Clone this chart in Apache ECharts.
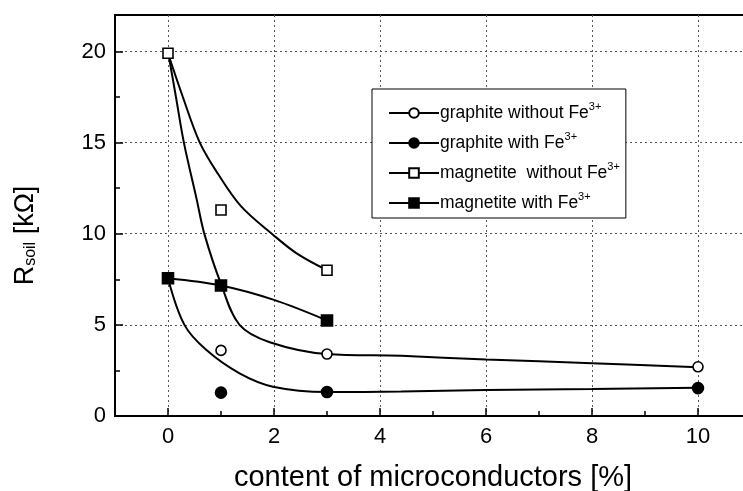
<!DOCTYPE html>
<html>
<head>
<meta charset="utf-8">
<script src="https://cdn.jsdelivr.net/npm/echarts@6/dist/echarts.min.js"></script>
<style>
html, body { margin: 0; padding: 0; background: #fff; }
#chart { width: 743px; height: 491px; }
</style>
</head>
<body>
<div id="chart"></div>
<script>
// legend names
const names = ['graphite without Fe3+', 'graphite with Fe3+', 'magnetite  without Fe3+', 'magnetite with Fe3+']

// measured points
const graphiteNoFeX = [1, 3, 10]
const graphiteNoFeY = [3.6, 3.4, 2.7]
const graphiteFeX = [1, 3, 10]
const graphiteFeY = [1.28, 1.32, 1.53]
const magnetiteNoFeX = [0, 1, 3]
const magnetiteNoFeY = [19.9, 11.3, 8.0]
const magnetiteFeX = [0, 1, 3]
const magnetiteFeY = [7.56, 7.16, 5.24]

// fitted curves
const fitGraphiteNoFeX = [0, 0.15, 0.3, 0.54, 0.69, 1.0, 1.35, 1.92, 3, 4.4, 6, 8, 10]
const fitGraphiteNoFeY = [20, 17.5, 15, 11.9, 9.95, 7.25, 5.0, 4.05, 3.4, 3.3, 3.1, 2.9, 2.67]
const fitGraphiteFeX = [0, 0.31, 0.72, 1.35, 1.98, 3, 4.4, 6, 8, 10]
const fitGraphiteFeY = [7.56, 5.0, 3.63, 2.34, 1.61, 1.32, 1.34, 1.43, 1.48, 1.55]
const fitMagnetiteNoFeX = [0, 0.28, 0.6, 0.94, 1.38, 1.98, 2.42, 3]
const fitMagnetiteNoFeY = [19.9, 17.5, 15, 13.3, 11.5, 9.95, 8.94, 8.0]
const fitMagnetiteFeX = [0, 1, 2, 3]
const fitMagnetiteFeY = [7.56, 7.16, 6.37, 5.24]

// axis ticks
const xMajor = [0, 2, 4, 6, 8, 10]
const xMinor = [1, 3, 5, 7, 9]
const yMajor = [0, 5, 10, 15, 20]
const yMinor = [2.5, 7.5, 12.5, 17.5]

const FONT = 'Liberation Sans, Arial, sans-serif'
const pair = (xs, ys) => xs.map((x, i) => [x, ys[i]])

const chart = echarts.init(document.getElementById('chart'))

const markerSeries = [
    { name: names[0], x: graphiteNoFeX, y: graphiteNoFeY, symbol: 'circle', size: 10, fill: '#fff' },
    { name: names[1], x: graphiteFeX, y: graphiteFeY, symbol: 'circle', size: 11, fill: '#000' },
    { name: names[2], x: magnetiteNoFeX, y: magnetiteNoFeY, symbol: 'rect', size: 10, fill: '#fff' },
    { name: names[3], x: magnetiteFeX, y: magnetiteFeY, symbol: 'rect', size: 11, fill: '#000' },
]
const fits = [
    [fitGraphiteNoFeX, fitGraphiteNoFeY],
    [fitGraphiteFeX, fitGraphiteFeY],
    [fitMagnetiteNoFeX, fitMagnetiteNoFeY],
    [fitMagnetiteFeX, fitMagnetiteFeY],
]

const series = []
fits.forEach((f, i) => {
    series.push({
        name: 'fit' + i,
        type: 'line',
        data: pair(f[0], f[1]),
        smooth: 0.35,
        showSymbol: false,
        silent: true,
        z: 2,
        lineStyle: { color: '#000', width: 2 },
    })
})
markerSeries.forEach(m => {
    series.push({
        name: m.name,
        type: 'line',
        data: pair(m.x, m.y),
        symbol: m.symbol,
        symbolSize: m.size,
        z: 5,
        itemStyle: { color: m.fill, borderColor: '#000', borderWidth: 1.6 },
        lineStyle: { opacity: 0 },
    })
})

const axisLine = { show: true, onZero: false, lineStyle: { color: '#000', width: 2 } }

const option = {
    animation: false,
    grid: {
        left: 115, top: 15, width: 636, height: 401,
        outerBoundsMode: 'none',
        containLabel: false,
        show: true, borderColor: '#000', borderWidth: 2,
    },
    legend: {
        data: names,
        orient: 'vertical',
        left: 372,
        top: 89,
        padding: [12, 6, 3, 16],
        itemGap: 6,
        itemWidth: 50,
        itemHeight: 12,
        borderColor: '#000',
        borderWidth: 1,
        backgroundColor: '#fff',
        lineStyle: { color: '#000', width: 2, opacity: 1 },
        formatter: name => name.replace('3+', '{sup|3+}'),
        textStyle: {
            fontFamily: FONT, fontSize: 17.5, color: '#000', lineHeight: 24, padding: [0, 0, 0, -4],
            rich: { sup: { fontFamily: FONT, fontSize: 11, color: '#000', verticalAlign: 'top', lineHeight: 12 } },
        },
    },
    xAxis: [{
        type: 'value', min: -1, max: 11,
        axisLine: axisLine,
        axisTick: { inside: true, length: 8, customValues: xMajor, lineStyle: { color: '#000', width: 1.5 } },
        axisLabel: { customValues: xMajor, fontFamily: FONT, fontSize: 22, color: '#000', margin: 10 },
        splitLine: { show: true, lineStyle: { color: '#555', width: 1, type: [2, 3] } },
        name: 'content of microconductors [%]',
        nameLocation: 'middle',
        nameGap: 47,
        nameTextStyle: { fontFamily: FONT, fontSize: 29, color: '#000' },
    }, {
        type: 'value', min: -1, max: 11, position: 'bottom',
        axisLine: { show: false, onZero: false },
        axisTick: { inside: true, length: 5, customValues: xMinor, lineStyle: { color: '#000', width: 1.5 } },
        axisLabel: { show: false },
        splitLine: { show: false },
    }],
    yAxis: [{
        type: 'value', min: 0, max: 22,
        axisLine: axisLine,
        axisTick: { inside: true, length: 8, customValues: yMajor, lineStyle: { color: '#000', width: 1.5 } },
        axisLabel: { customValues: yMajor, fontFamily: FONT, fontSize: 22, color: '#000', margin: 9 },
        splitLine: { show: true, lineStyle: { color: '#555', width: 1, type: [2, 3] } },
        name: '{a|R}{b|soil}{a| [kΩ]}',
        nameLocation: 'middle',
        nameRotate: 90,
        nameGap: 76,
        nameTextStyle: {
            padding: [0, 40, 0, 0],
            rich: {
                a: { fontFamily: FONT, fontSize: 27, color: '#000', verticalAlign: 'bottom', lineHeight: 30 },
                b: { fontFamily: FONT, fontSize: 16, color: '#000', verticalAlign: 'bottom', lineHeight: 22 },
            },
        },
    }, {
        type: 'value', min: 0, max: 22, position: 'left',
        axisLine: { show: false, onZero: false },
        axisTick: { inside: true, length: 5, customValues: yMinor, lineStyle: { color: '#000', width: 1.5 } },
        axisLabel: { show: false },
        splitLine: { show: false },
    }],
    series: series,
}

chart.setOption(option)
</script>
</body>
</html>
